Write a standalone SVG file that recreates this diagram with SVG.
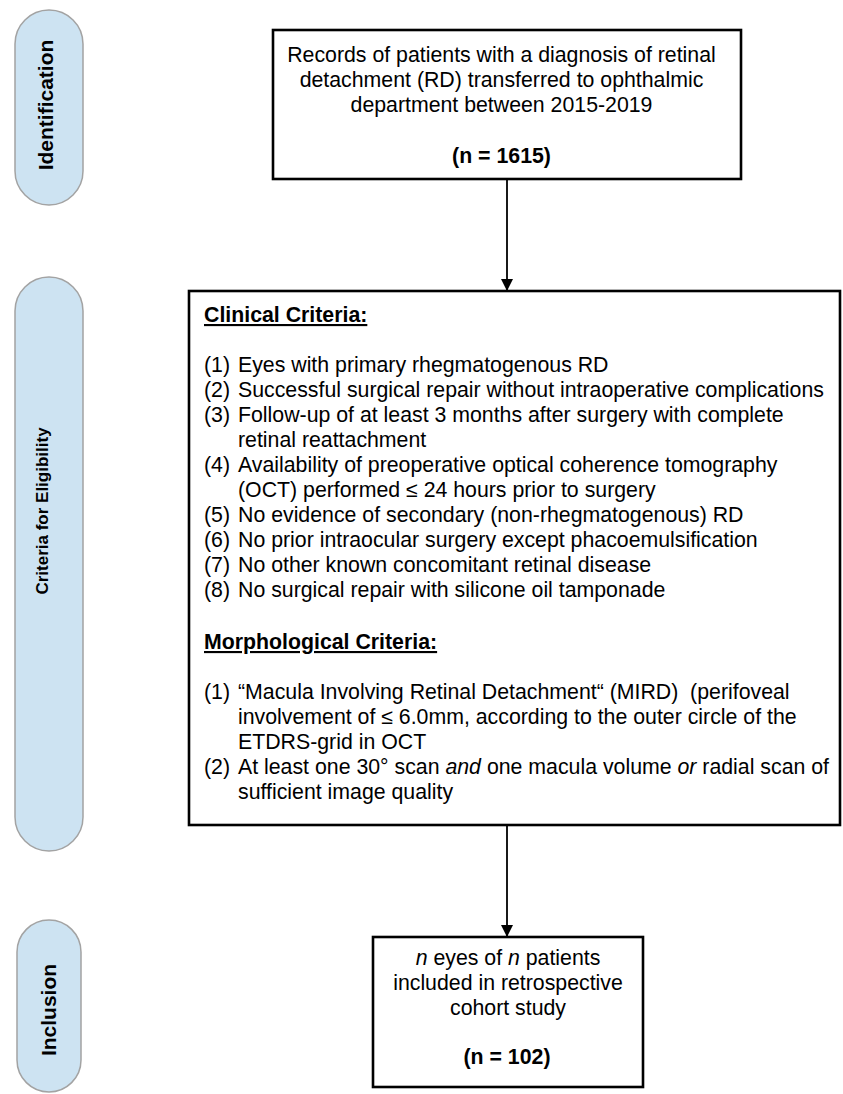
<svg xmlns="http://www.w3.org/2000/svg" width="843" height="1094" viewBox="0 0 843 1094">
  <style>
    .pill { fill: #cde3f2; stroke: #a3a3a3; stroke-width: 1.5; }
    .plabel { font-family: "Liberation Sans", Arial, sans-serif; font-weight: bold; fill: #000; text-anchor: middle; }
    .box { fill: #fff; stroke: #000; stroke-width: 2.6; }
    .t { font-family: "Liberation Sans", Arial, sans-serif; font-size: 21.3px; fill: #000; }
    .c { text-anchor: middle; }
    .b { font-weight: bold; }
    .u { text-decoration: underline; }
    .conn { stroke: #000; stroke-width: 1.8; fill: none; }
  </style>
  <defs>
    <marker id="arrow" markerUnits="userSpaceOnUse" markerWidth="12" markerHeight="12" refX="12" refY="6" orient="auto">
      <path d="M0,0 L12,6 L0,12 Z" fill="#000"/>
    </marker>
  </defs>

  <g id="stage-identification">
    <rect class="pill" x="15" y="10" width="68" height="195" rx="34" ry="34"/>
    <text class="plabel" font-size="21" transform="translate(53,105) rotate(-90)">Identification</text>
  </g>
  <g id="stage-eligibility">
    <rect class="pill" x="15" y="277" width="68" height="574" rx="34" ry="34"/>
    <text class="plabel" font-size="17" transform="translate(48,511) rotate(-90)">Criteria for Eligibility</text>
  </g>
  <g id="stage-inclusion">
    <rect class="pill" x="17" y="920" width="64" height="172" rx="32" ry="32"/>
    <text class="plabel" font-size="21" transform="translate(56,1010) rotate(-90)">Inclusion</text>
  </g>

  <g id="connectors">
    <line class="conn" x1="507" y1="180" x2="507" y2="291" marker-end="url(#arrow)"/>
    <line class="conn" x1="507" y1="826" x2="507" y2="937" marker-end="url(#arrow)"/>
  </g>

  <g id="node-records">
    <rect class="box" x="273" y="30" width="468" height="149"/>
    <text class="t c" x="501.5" y="62">Records of patients with a diagnosis of retinal</text>
    <text class="t c" x="501.5" y="87">detachment (RD) transferred to ophthalmic</text>
    <text class="t c" x="501.5" y="112">department between 2015-2019</text>
    <text class="t c b" x="501.5" y="163">(n = 1615)</text>
  </g>

  <g id="node-criteria">
    <rect class="box" x="189" y="291" width="651" height="534"/>
    <text class="t b u" x="204" y="322">Clinical Criteria:</text>
    <text class="t" x="204" y="372">(1)</text><text class="t" x="238" y="372">Eyes with primary rhegmatogenous RD</text>
    <text class="t" x="204" y="397">(2)</text><text class="t" x="238" y="397">Successful surgical repair without intraoperative complications</text>
    <text class="t" x="204" y="422">(3)</text><text class="t" x="238" y="422">Follow-up of at least 3 months after surgery with complete</text>
    <text class="t" x="238" y="447">retinal reattachment</text>
    <text class="t" x="204" y="472">(4)</text><text class="t" x="238" y="472">Availability of preoperative optical coherence tomography</text>
    <text class="t" x="238" y="497">(OCT) performed ≤ 24 hours prior to surgery</text>
    <text class="t" x="204" y="522">(5)</text><text class="t" x="238" y="522">No evidence of secondary (non-rhegmatogenous) RD</text>
    <text class="t" x="204" y="547">(6)</text><text class="t" x="238" y="547">No prior intraocular surgery except phacoemulsification</text>
    <text class="t" x="204" y="572">(7)</text><text class="t" x="238" y="572">No other known concomitant retinal disease</text>
    <text class="t" x="204" y="597">(8)</text><text class="t" x="238" y="597">No surgical repair with silicone oil tamponade</text>
    <text class="t b u" x="204" y="649">Morphological Criteria:</text>
    <text class="t" x="204" y="699">(1)</text><text class="t" x="238" y="699" xml:space="preserve">“Macula Involving Retinal Detachment“ (MIRD)  (perifoveal</text>
    <text class="t" x="238" y="724">involvement of ≤ 6.0mm, according to the outer circle of the</text>
    <text class="t" x="238" y="749">ETDRS-grid in OCT</text>
    <text class="t" x="204" y="774">(2)</text><text class="t" x="238" y="774">At least one 30° scan <tspan font-style="italic">and</tspan> one macula volume <tspan font-style="italic">or</tspan> radial scan of</text>
    <text class="t" x="238" y="799">sufficient image quality</text>
  </g>

  <g id="node-included">
    <rect class="box" x="373" y="937" width="270" height="150"/>
    <text class="t c" x="508" y="965"><tspan font-style="italic">n</tspan> eyes of <tspan font-style="italic">n</tspan> patients</text>
    <text class="t c" x="508" y="990">included in retrospective</text>
    <text class="t c" x="508" y="1015">cohort study</text>
    <text class="t c b" x="507" y="1064">(n = 102)</text>
  </g>
</svg>
